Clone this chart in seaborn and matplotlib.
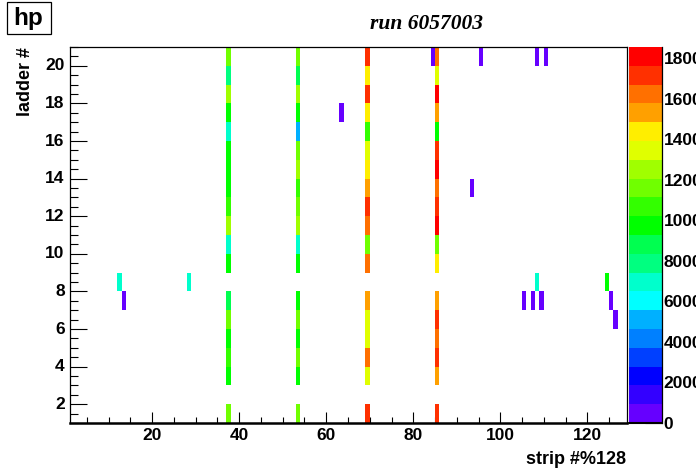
import numpy as np
import pandas as pd
import matplotlib
matplotlib.use("Agg")
import matplotlib.pyplot as plt
from matplotlib.colors import ListedColormap
from matplotlib.patches import Rectangle
from matplotlib.ticker import FixedLocator
import seaborn as sns

ladders = [20, 19, 18, 17, 16, 15, 14, 13, 12, 11, 10, 9, 7, 6, 5, 4, 3, 1]
strip_37 = [11600, 7890, 12530, 9750, 6960, 9750, 9750, 9750, 10670, 12530, 6960, 9750, 8820, 11600, 9750, 11100, 9750, 11600]
strip_53 = [11600, 8820, 12530, 10200, 5100, 11600, 12530, 10670, 11600, 12530, 6960, 9750, 9750, 11600, 9750, 11600, 9750, 11600]
strip_69 = [17170, 14380, 17170, 14380, 10670, 13460, 14380, 15310, 17170, 16240, 11600, 16240, 15310, 13460, 13460, 16240, 13460, 17170]
strip_85 = [16240, 13460, 18100, 15310, 9750, 17170, 18100, 16240, 17170, 18100, 11600, 14380, 15310, 17170, 16240, 17170, 15310, 17170]
main_strips = {37: strip_37, 53: strip_53, 69: strip_69, 85: strip_85}

sparse_strip = [84, 95, 108, 110, 63, 93, 12, 28, 108, 124, 13, 105, 107, 109, 125, 126]
sparse_ladder = [20, 20, 20, 20, 17, 13, 8, 8, 8, 8, 7, 7, 7, 7, 7, 6]
sparse_value = [460, 460, 460, 460, 460, 460, 6960, 6960, 7400, 9750, 460, 460, 460, 460, 460, 460]

band_colors = ["#6600ff", "#3300ff", "#0000ff", "#0040ff", "#0080ff", "#00b0ff", "#00ffff",
               "#00ffcc", "#00ff80", "#00ff50", "#00ff00", "#33ff00", "#70ff00", "#a0ff00",
               "#e0ff00", "#ffee00", "#ffa000", "#ff7000", "#ff3000", "#ff0000"]
z_max = 18560
x_major = [20, 40, 60, 80, 100, 120]
y_major = [2, 4, 6, 8, 10, 12, 14, 16, 18, 20]
cbar_ticks = [0, 2000, 4000, 6000, 8000, 10000, 12000, 14000, 16000, 18000]

W, H = 696, 470
sns.set_theme(style="white")
plt.rcParams["font.family"] = ["Liberation Sans", "DejaVu Sans"]
plt.rcParams["font.weight"] = "bold"
plt.rcParams["font.size"] = 13
plt.rcParams["text.color"] = "black"

grid = pd.DataFrame(np.full((20, 128), np.nan),
                    index=np.arange(1, 21), columns=np.arange(1, 129))
for s, vals in main_strips.items():
    for l, v in zip(ladders, vals):
        grid.loc[l, s] = v
for s, l, v in zip(sparse_strip, sparse_ladder, sparse_value):
    grid.loc[l, s] = v

fig = plt.figure(figsize=(W / 100, H / 100), dpi=100, facecolor="white")
ax = fig.add_axes([69.5 / W, (H - 423) / H, 557 / W, 376 / H])
cax = fig.add_axes([629 / W, (H - 423) / H, 32.5 / W, 376 / H])

sns.heatmap(grid, ax=ax, cbar_ax=cax, cmap=ListedColormap(band_colors),
            vmin=0, vmax=z_max, linewidths=0, linecolor="face", antialiased=False, snap=True)

ax.set_xlim(0, 128)
ax.set_ylim(0, 20)
ax.xaxis.set_major_locator(FixedLocator([v - 1 for v in x_major]))
ax.set_xticklabels([str(v) for v in x_major], rotation=0, fontsize=12.5, fontweight="bold", color="black")
ax.xaxis.set_minor_locator(FixedLocator([v - 1 for v in range(5, 129, 5)]))
ax.yaxis.set_major_locator(FixedLocator([v - 1 for v in y_major]))
ax.set_yticklabels([str(v) for v in y_major], rotation=0, fontsize=12.5, fontweight="bold", color="black")
ax.yaxis.set_minor_locator(FixedLocator([v / 2 for v in range(0, 41)]))
ax.tick_params(axis="x", which="major", direction="in", length=8, width=0.8, color="black", pad=3.5, bottom=True)
ax.tick_params(axis="x", which="minor", direction="in", length=4.3, width=0.8, color="black", bottom=True)
ax.tick_params(axis="y", which="major", direction="in", length=12.5, width=0.8, color="black", pad=3.5, left=True)
ax.tick_params(axis="y", which="minor", direction="in", length=6, width=0.8, color="black", left=True)
for side, lw in zip(["left", "right", "top", "bottom"], [0.9, 0.9, 0.9, 1.8]):
    ax.spines[side].set_visible(True)
    ax.spines[side].set_color("black")
    ax.spines[side].set_linewidth(lw)
ax.set_xlabel("")
ax.set_ylabel("")

cax.set_yticks(cbar_ticks)
cax.set_yticklabels([str(v) for v in cbar_ticks], fontsize=12.5, fontweight="bold", color="black")
cax.tick_params(axis="y", which="both", direction="in", length=12.5, width=0.8, color="black", pad=1.5, right=True)
cax.minorticks_off()
for side, spine in cax.spines.items():
    spine.set_visible(side == "right")
    spine.set_color("black")
    spine.set_linewidth(0.9)
cax.plot([0, 1], [0, 0], transform=cax.get_yaxis_transform(), color="black", lw=1.5, clip_on=False)

fig.text(626 / W, 1 - 459 / H, "strip #%128", ha="right", va="center", fontsize=13, fontweight="bold", color="black")
fig.text(25 / W, 1 - 47 / H, "ladder #", ha="center", va="top", rotation=90, fontsize=13, fontweight="bold", color="black")
fig.text(427 / W, 1 - 24 / H, "run 6057003", ha="center", va="center", fontsize=15.5, color="black",
         family="Liberation Serif", fontweight="bold", style="italic")
fig.add_artist(Rectangle((6.5 / W, 1 - 34 / H), 44 / W, 32 / H, transform=fig.transFigure,
                         fill=False, edgecolor="black", linewidth=0.9))
fig.text(28.5 / W, 1 - 19 / H, "hp", ha="center", va="center", fontsize=17.5, fontweight="bold", color="black")

fig.savefig("out.png", dpi=100, facecolor="white")
